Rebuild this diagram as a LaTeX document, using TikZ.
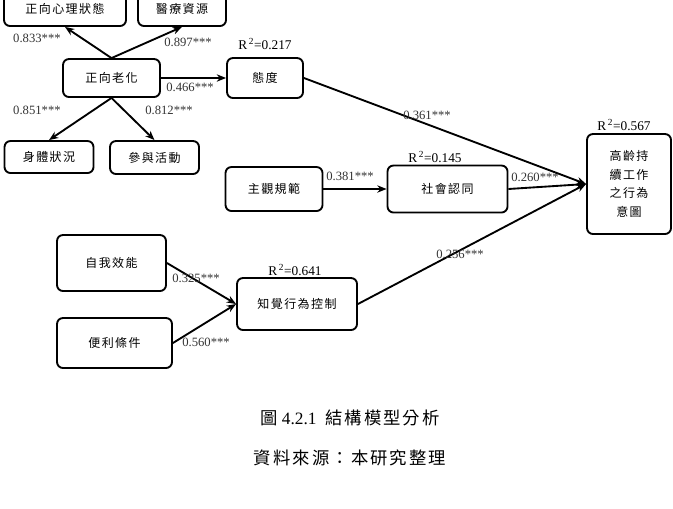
\documentclass[tikz,border=0pt]{standalone}
\usepackage{fontspec}
\setmainfont{Liberation Serif}
\newfontfamily\cjk[LetterSpace=12]{Noto Sans CJK TC}
\usetikzlibrary{arrows.meta,positioning}
\tikzset{
  sem/.style={x=0.75pt, y=-0.75pt, >={Stealth[length=7pt,width=5.5pt]}},
  var/.style={draw, rounded corners=4.5pt, line width=1.4pt, font=\cjk\fontsize{9}{14}\selectfont, inner sep=0pt, align=center},
  wh/.style n args={2}{minimum width=#1*0.75pt, minimum height=#2*0.75pt},
  coef/.style={font=\fontsize{9.5}{11}\selectfont, inner sep=0pt, text=black!80},
  rsq/.style={font=\fontsize{10}{12}\selectfont, inner sep=0pt},
  arr/.style={->, line width=1.4pt},
  figcap/.style={font=\fontsize{13}{15}\selectfont, inner sep=0pt}
}
\newcommand{\rsqv}[1]{R\textsuperscript{\,2}=#1}

\begin{document}
\begin{tikzpicture}[sem]
\useasboundingbox (0,0) rectangle (673,508);
% constructs
\node[var, wh={122}{34}] (psy) at (65,9) {正向心理狀態};
\node[var, wh={88}{34}] (med) at (182,9) {醫療資源};
\node[var, wh={97}{38}] (posage) at (111.5,78) {正向老化};
\node[var, wh={76}{40}] (att) at (265,78) {態度};
\node[var, wh={89}{32}] (body) at (49,157) {身體狀況};
\node[var, wh={89}{33}] (part) at (154.5,157.5) {參與活動};
\node[var, wh={97}{44}] (norm) at (274,189) {主觀規範};
\node[var, wh={120}{47}] (soc) at (447.5,189) {社會認同};
\node[var, wh={84}{100}] (intent) at (629,184) {高齡持\\續工作\\之行為\\意圖};
\node[var, wh={109}{56}] (eff) at (111.5,263) {自我效能};
\node[var, wh={115}{50}] (cond) at (114.5,343) {便利條件};
\node[var, wh={120}{52}] (pbc) at (297,304) {知覺行為控制};
% paths
\draw[arr] (posage.north) -- (psy.south);
\draw[arr] (posage.north) -- (med.south);
\draw[arr] (posage.south) -- (body.north);
\draw[arr] (posage.south) -- (part.north);
\draw[arr] (posage.east) -- (att.west);
\draw[arr] (att.east) -- (intent.west);
\draw[arr] (norm.east) -- (soc.west);
\draw[arr] (soc.east) -- (intent.west);
\draw[arr] (eff.east) -- (pbc.west);
\draw[arr] (cond.east) -- (pbc.west);
\draw[arr] (pbc.east) -- (intent.west);
% coefficients
\node[coef] (c1) at (37,38) {0.833***};
\node[coef] (c2) at (188,42) {0.897***};
\node[coef] (c3) at (190,87) {0.466***};
\node[coef] (c4) at (37,110) {0.851***};
\node[coef] (c5) at (169,110) {0.812***};
\node[coef] (c6) at (427,115) {0.361***};
\node[coef] (c7) at (350,176) {0.381***};
\node[coef] (c8) at (535,177) {0.260***};
\node[coef] (c9) at (196,278) {0.325***};
\node[coef] (c10) at (206,342) {0.560***};
\node[coef] (c11) at (460,254) {0.256***};
\node[rsq] (r1) at (265,44) {\rsqv{0.217}};
\node[rsq] (r2) at (435,157) {\rsqv{0.145}};
\node[rsq] (r3) at (624,125) {\rsqv{0.567}};
\node[rsq] (r4) at (295,270) {\rsqv{0.641}};
% caption
\node[figcap] (title) at (350,418) {{\cjk 圖} 4.2.1\ \ {\cjk 結構模型分析}};
\node[figcap] (src) at (350,458) {\cjk 資料來源：本研究整理};
\end{tikzpicture}
\end{document}
